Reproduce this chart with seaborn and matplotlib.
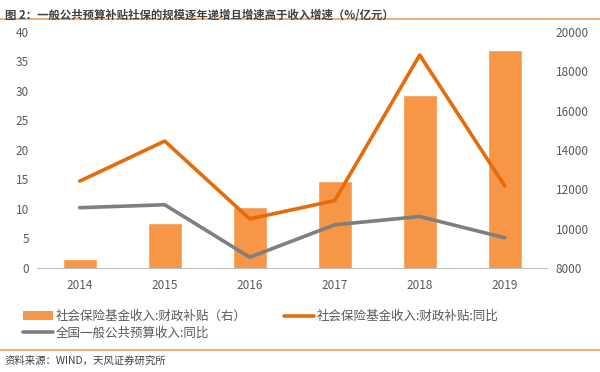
import matplotlib
matplotlib.use("Agg")
import matplotlib.pyplot as plt
import seaborn as sns
import pandas as pd
from matplotlib.patches import Patch
from matplotlib.lines import Line2D

years = ["2014", "2015", "2016", "2017", "2018", "2019"]
subsidy = [8450, 10300, 11100, 12400, 16800, 19100]          # 亿元, right axis
subsidy_yoy = [14.7, 21.5, 8.3, 11.4, 36.1, 13.9]            # %
budget_yoy = [10.2, 10.7, 1.8, 7.3, 8.7, 5.1]                # %

bar_color = "#F79646"
orange = "#E46C0A"
gray = "#7F7F7F"
text_color = "#595959"

sns.set_style("white")
plt.rcParams["font.family"] = ["Noto Sans CJK SC", "DejaVu Sans"]

df = pd.DataFrame({"year": years, "subsidy": subsidy,
                   "subsidy_yoy": subsidy_yoy, "budget_yoy": budget_yoy})

fig = plt.figure(figsize=(6, 3.72), dpi=100)
ax_r = fig.add_axes([0.062, 0.28, 0.85, 0.634])
ax_l = ax_r.twinx()

# bars on the right axis (drawn first, behind the lines)
sns.barplot(data=df, x="year", y="subsidy", color=bar_color, width=0.4,
            saturation=1, ax=ax_r)
ax_r.set_ylim(8000, 20000)
ax_r.set_yticks(range(8000, 20001, 2000))
ax_r.yaxis.tick_right()
ax_r.yaxis.set_label_position("right")

# lines on the left axis
sns.lineplot(data=df, x="year", y="subsidy_yoy", color=orange, linewidth=2.6, ax=ax_l)
sns.lineplot(data=df, x="year", y="budget_yoy", color=gray, linewidth=2.6, ax=ax_l)
ax_l.set_ylim(0, 40)
ax_l.set_yticks(range(0, 41, 5))
ax_l.yaxis.tick_left()
ax_l.yaxis.set_label_position("left")
ax_l.set_xlim(-0.5, 5.5)

for ax in (ax_r, ax_l):
    ax.set_xlabel("")
    ax.set_ylabel("")
    for s in ax.spines.values():
        s.set_visible(False)
    ax.tick_params(axis="y", length=0, labelsize=8.5, labelcolor=text_color, pad=6)
ax_r.spines["bottom"].set_visible(True)
ax_r.spines["bottom"].set_color("#BFBFBF")
ax_r.set_xticks([x - 0.5 for x in range(7)], minor=True)
ax_r.tick_params(axis="x", which="major", length=0, labelsize=8.5,
                 labelcolor=text_color, pad=8)
ax_r.tick_params(axis="x", which="minor", length=4, color="#BFBFBF", direction="out")
ax_l.tick_params(axis="x", length=0, labelbottom=False)

# title and rules
fig.text(0.008, 0.975, "图 2：一般公共预算补贴社保的规模逐年递增且增速高于收入增速（%/亿元）",
         fontsize=8.2, fontweight="bold", color="#404040", va="top")
fig.add_artist(Line2D([0, 1], [0.948, 0.948], color="#F0A060", linewidth=1.2,
                      transform=fig.transFigure))
fig.add_artist(Line2D([0, 1], [0.06, 0.06], color="#F0A060", linewidth=1.2,
                      transform=fig.transFigure))
fig.text(0.008, 0.03, "资料来源：WIND，天风证券研究所", fontsize=7.5,
         color="#404040", va="center")

handles = [Patch(facecolor=bar_color, edgecolor="none"),
           Line2D([], [], color=gray, linewidth=2.6),
           Line2D([], [], color=orange, linewidth=2.6)]
labels = ["社会保险基金收入:财政补贴（右）", "全国一般公共预算收入:同比",
          "社会保险基金收入:财政补贴:同比"]
fig.legend(handles, labels, ncol=2, loc="upper left", bbox_to_anchor=(0.03, 0.18),
           bbox_transform=fig.transFigure, frameon=False, fontsize=9,
           labelcolor=text_color, handlelength=2.4, handletextpad=0.2,
           columnspacing=3.0, borderaxespad=0, labelspacing=0.3)

fig.savefig("out.png", dpi=100)
